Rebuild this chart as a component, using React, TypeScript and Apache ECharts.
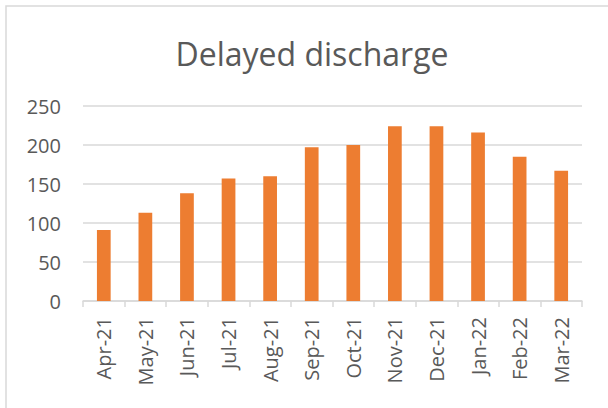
import React, { useEffect, useRef } from "react";
import * as echarts from "echarts";

const categories = ["Apr-21", "May-21", "Jun-21", "Jul-21", "Aug-21", "Sep-21", "Oct-21", "Nov-21", "Dec-21", "Jan-22", "Feb-22", "Mar-22"];
const values = [91, 113, 138, 157, 160, 197, 200, 224, 224, 216, 185, 167];
const titleText = "Delayed discharge";

export default function App() {
  const ref = useRef<HTMLDivElement>(null);
  useEffect(() => {
    if (!ref.current) return;
    const chart = echarts.init(ref.current, undefined, { renderer: "svg" });
    const font = "'Open Sans', sans-serif";
    chart.setOption({
      animation: false,
      backgroundColor: "#ffffff",
      title: {
        text: titleText,
        left: 307,
        textAlign: "center",
        top: 32,
        textStyle: { fontSize: 32, fontWeight: "normal", color: "#595959", fontFamily: font },
      },
      graphic: [
        {
          type: "rect",
          shape: { x: 6, y: 6, width: 800, height: 600 },
          style: { fill: "none", stroke: "#d9d9d9", lineWidth: 1.5 },
          silent: true,
          z: -10,
        },
      ],
      grid: { left: 83, right: 26, top: 106, bottom: 107, containLabel: false },
      xAxis: {
        type: "category",
        data: categories,
        axisLine: { show: true, lineStyle: { color: "#d9d9d9", width: 1.5 } },
        axisTick: { show: true, alignWithLabel: false, length: 6, lineStyle: { color: "#d9d9d9", width: 1.5 } },
        axisLabel: { rotate: 90, margin: 16, color: "#595959", fontSize: 20, fontFamily: font },
      },
      yAxis: {
        type: "value",
        min: 0,
        max: 250,
        interval: 50,
        axisLine: { show: false },
        axisTick: { show: false },
        splitLine: { lineStyle: { color: "#d9d9d9", width: 1.5 } },
        axisLabel: { margin: 22, color: "#595959", fontSize: 20, fontFamily: font },
      },
      series: [
        {
          type: "bar",
          data: values,
          barWidth: "33%",
          itemStyle: { color: "#ED7D31" },
        },
      ],
    });
    return () => chart.dispose();
  }, []);
  return <div ref={ref} style={{ position: "absolute", left: 0, top: 0, width: 608, height: 408 }} />;
}
